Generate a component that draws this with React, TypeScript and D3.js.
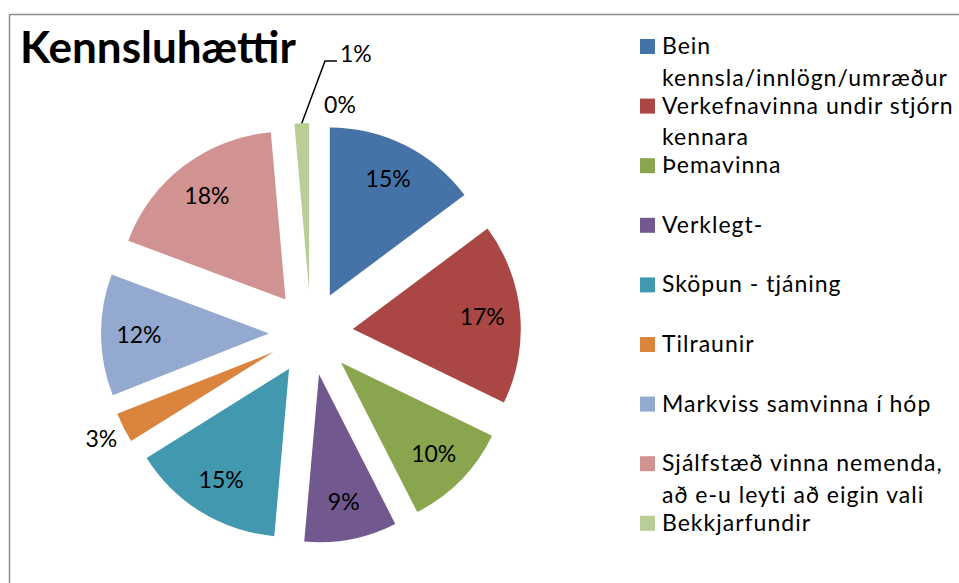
import React from "react";
import * as d3 from "d3";

const categories = [
  "Bein kennsla/innlögn/umræður",
  "Verkefnavinna undir stjórn kennara",
  "Þemavinna",
  "Verklegt-",
  "Sköpun - tjáning",
  "Tilraunir",
  "Markviss samvinna í hóp",
  "Sjálfstæð vinna nemenda, að e-u leyti að eigin vali",
  "Bekkjarfundir",
  "Annað",
];
const legendLines = [
  ["Bein", "kennsla/innlögn/umræður"],
  ["Verkefnavinna undir stjórn", "kennara"],
  ["Þemavinna"],
  ["Verklegt-"],
  ["Sköpun - tjáning"],
  ["Tilraunir"],
  ["Markviss samvinna í hóp"],
  ["Sjálfstæð vinna nemenda,", "að e-u leyti að eigin vali"],
  ["Bekkjarfundir"],
  ["Annað"],
];
const values = [14.8, 17.4, 10.3, 8.9, 14.7, 2.9, 11.7, 17.9, 1.4, 0];
const colors = [
  "#4572A7", "#AA4643", "#89A54E", "#71588F", "#4198AF",
  "#DB843D", "#93A9CF", "#D19392", "#B9CD96", "#A99BBD",
];
const title = "Kennsluhættir";

const W = 959, H = 583;
const CX = 311, CY = 333, R = 168, EXPLODE = 42;
const FONT = "Lato, 'Open Sans', sans-serif";

export default function App() {
  const total = d3.sum(values);
  const pie = d3.pie<number>().sort(null).value((d) => d);
  const arcs = pie(values);
  const arc = d3.arc<d3.PieArcDatum<number>>().innerRadius(0).outerRadius(R);
  const fmt = (v: number) => `${Math.round((v / total) * 100)}%`;

  const legendTop = 54, legendStep = 59.6, lineStep = 31.7;
  const legendItems = categories
    .map((c, i) => ({ c, i, y: legendTop + i * legendStep }))
    .filter((d) => d.y < H - 20);

  return (
    <svg width={W} height={H} style={{ position: "absolute", left: 0, top: 0, background: "#fff" }}>
      <rect x={0} y={0} width={W} height={H} fill="#fff" />
      <line x1={9.5} y1={14.5} x2={W} y2={14.5} stroke="#8c8c8c" strokeWidth={1.5} />
      <line x1={9.5} y1={14.5} x2={9.5} y2={H} stroke="#8c8c8c" strokeWidth={1.5} />
      <text x={20} y={63} fontFamily={FONT} fontWeight={700} fontSize={44} fill="#000">
        {title}
      </text>
      {arcs.map((a, i) => {
        const mid = (a.startAngle + a.endAngle) / 2;
        const ox = CX + EXPLODE * Math.sin(mid);
        const oy = CY - EXPLODE * Math.cos(mid);
        const pct = a.value / total;
        let label: React.ReactNode = null;
        if (i === 8) {
          const sx = ox + R * Math.sin(mid), sy = oy - R * Math.cos(mid);
          label = (
            <g>
              <polyline points={`${sx},${sy} ${325},${61} ${337},${61}`} fill="none" stroke="#000" strokeWidth={1.5} />
              <text x={340} y={62} fontFamily={FONT} fontSize={23} fill="#000">{fmt(a.value)}</text>
            </g>
          );
        } else if (i === 9) {
          label = (
            <text x={340} y={113} textAnchor="middle" fontFamily={FONT} fontSize={23} fill="#000">{fmt(a.value)}</text>
          );
        } else if (pct < 0.05) {
          const rr = R + 25;
          label = (
            <text x={ox + rr * Math.sin(mid)} y={oy - rr * Math.cos(mid)} dy="0.35em" textAnchor="middle" fontFamily={FONT} fontSize={23} fill="#000">{fmt(a.value)}</text>
          );
        } else {
          const rr = 130;
          label = (
            <text x={ox + rr * Math.sin(mid)} y={oy - rr * Math.cos(mid)} dy="0.35em" textAnchor="middle" fontFamily={FONT} fontSize={23} fill="#000">{fmt(a.value)}</text>
          );
        }
        return (
          <g key={i}>
            {a.value > 0 && (
              <path d={arc(a) || ""} transform={`translate(${ox},${oy})`} fill={colors[i]} />
            )}
            {label}
          </g>
        );
      })}
      {legendItems.map(({ i, y }) => (
        <g key={i}>
          <rect x={640} y={y - 15} width={15} height={15} fill={colors[i]} />
          {legendLines[i].map((l, j) => (
            <text key={j} x={662} y={y + j * lineStep} fontFamily={FONT} fontSize={23} letterSpacing={1} fill="#000">{l}</text>
          ))}
        </g>
      ))}
    </svg>
  );
}
